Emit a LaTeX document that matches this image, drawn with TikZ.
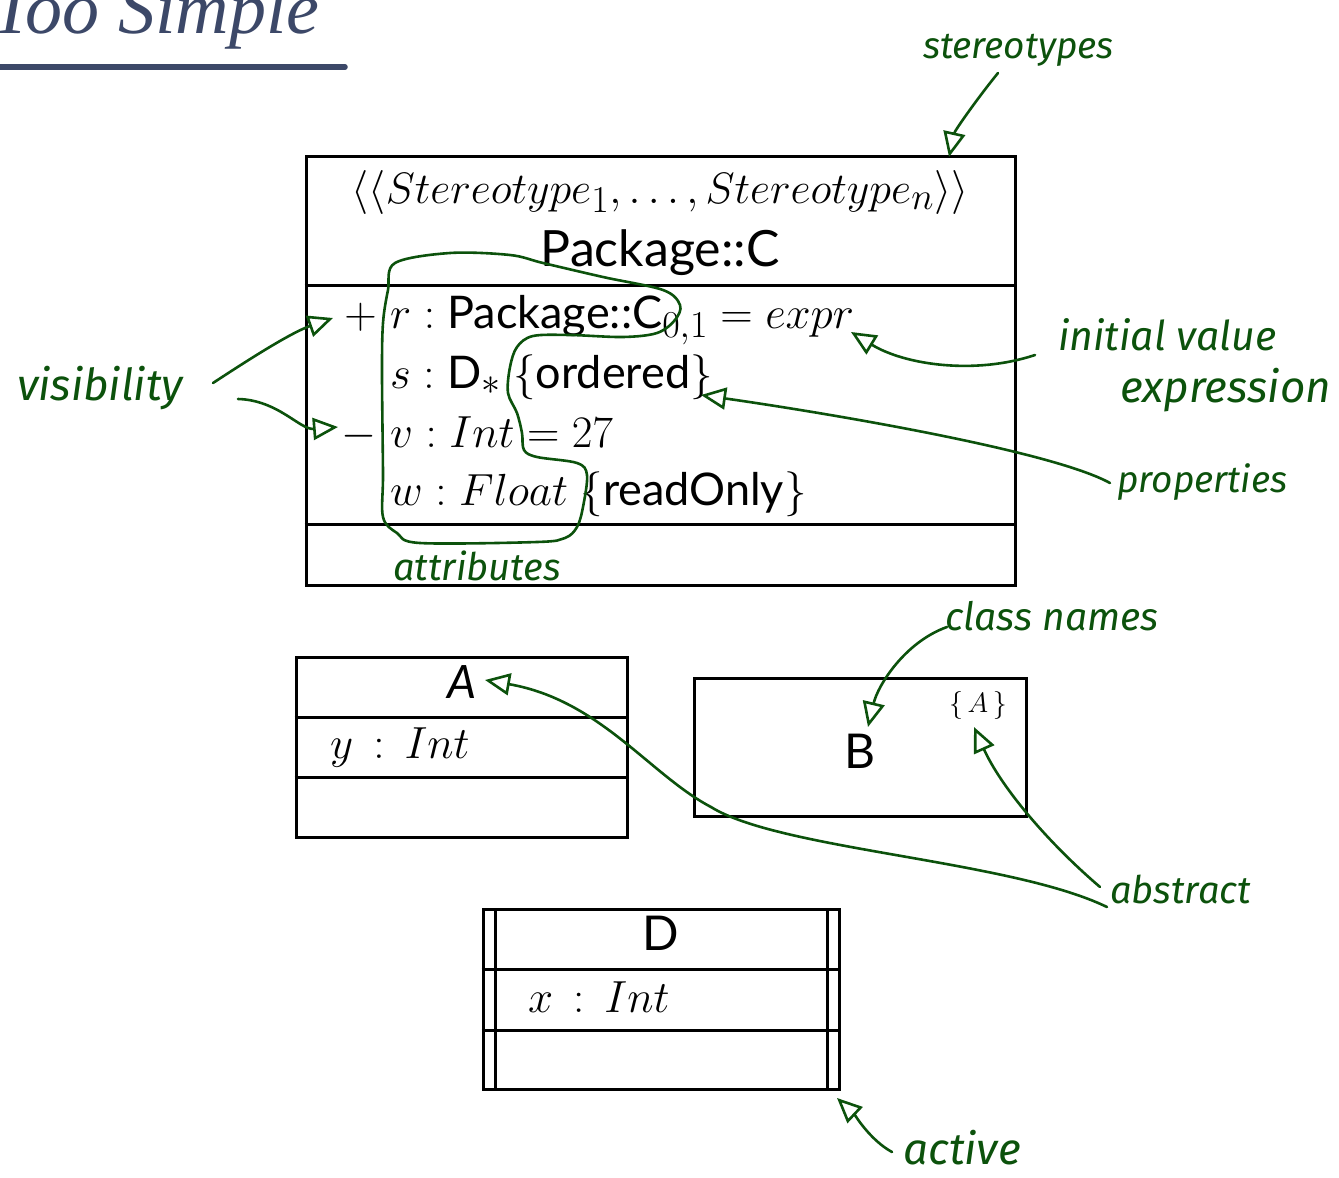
\RequirePackage{fix-cm}
\documentclass[tikz,border=0pt]{standalone}
\usepackage{fontspec}
\setsansfont{Lato}
\newfontfamily\titlefont{Liberation Serif}
\newfontfamily\handfont{Fira Sans}
\usetikzlibrary{arrows.meta}

% subscripts set at a fixed size
\newcommand\subsz[1]{\mbox{\fontsize{38}{38}\selectfont$#1$}}

\definecolor{slidetitle}{RGB}{60,72,104}
\definecolor{pen}{RGB}{12,82,12}

\tikzset{
  classbox/.style={draw, line width=3pt, inner sep=0pt, minimum width=#1},
  divider/.style={line width=3pt},
  fs/.style={font=\fontsize{#1}{#1}\selectfont},
  txt/.style={inner sep=0pt, fs=45},
  hand/.style={inner sep=0pt, text=pen, font=\fontsize{#1}{#1}\selectfont\handfont\itshape},
  note/.style={draw=pen, line width=2.6pt, line cap=round, line join=round,
    -{Triangle[open, length=25pt, width=22pt, line width=2.6pt]}},
  blob/.style={draw=pen, line width=2.6pt, line join=round}
}

\begin{document}
\begin{tikzpicture}[x=1pt, y=-1pt]
\useasboundingbox (0,0) rectangle (1339,1178);

% heading of the slide
\node[anchor=base east, inner sep=0pt, text=slidetitle,
      font=\fontsize{74}{74}\selectfont\titlefont\itshape] (title) at (320,33) {Too Simple};
\coordinate (ulstart) at (-5,67);
\coordinate (ulend) at (345,67);
\draw[slidetitle, line width=5.5pt, line cap=round] (ulstart) -- (ulend);

% ---- class C with stereotypes, attributes and an empty operation part
\node[classbox=709pt, minimum height=429pt] (C) at (660.5,370.5) {};
\draw[divider] (C.west |- 0,285) coordinate (c1l) -- (C.east |- 0,285) coordinate (c1r);
\draw[divider] (C.west |- 0,524) coordinate (c2l) -- (C.east |- 0,524) coordinate (c2r);

\node[txt, anchor=base, fs=44] (stereo) at (660,203)
  {$\langle\langle Stereotype_{\subsz{1}},\ldots,Stereotype_{\subsz{n}}\rangle\rangle$};
\node[txt, anchor=base, fs=50] (cname) at (660,266) {\sffamily Package::C};

\node[txt, anchor=base east] (plus) at (377,328) {$+$};
\node[txt, anchor=base east] (minus) at (377,447) {$-$};
\node[txt, anchor=base west] (attr1) at (390,328) {$r : \textsf{Package::C}_{\subsz{0{,}1}} = expr$};
\node[txt, anchor=base west] (attr2) at (390,388) {$s : \textsf{D}_{\subsz{*}}\;\{\textsf{ordered}\}$};
\node[txt, anchor=base west] (attr3) at (390,447) {$v : Int = 27$};
\node[txt, anchor=base west] (attr4) at (390,505) {$w : Float\;\{\textsf{readOnly}\}$};

% ---- abstract class A
\node[classbox=331pt, minimum height=180pt] (A) at (461.5,747) {};
\draw[divider] (A.west |- 0,717) -- (A.east |- 0,717);
\draw[divider] (A.west |- 0,777) -- (A.east |- 0,777);
\node[txt, anchor=base, fs=46] (aname) at (462,698) {\sffamily\itshape A};
\node[txt, anchor=base west] (aattr) at (330,758) {$y\, :\, Int$};

% ---- class B with property {A}
\node[classbox=332pt, minimum height=138pt] (B) at (860,747) {};
\node[txt, anchor=base, fs=48] (bname) at (860,768) {\sffamily B};
\node[txt, fs=28] (bprop) at (978,705) {$\{\,A\,\}$};

% ---- active class D
\node[classbox=356pt, minimum height=180pt] (D) at (661,999) {};
\draw[divider] (495,909) -- (495,1089);
\draw[divider] (827,909) -- (827,1089);
\draw[divider] (D.west |- 0,969) -- (D.east |- 0,969);
\draw[divider] (D.west |- 0,1030) -- (D.east |- 0,1030);
\node[txt, anchor=base, fs=48] (dname) at (661,950) {\sffamily D};
\node[txt, anchor=base west] (dattr) at (528,1012) {$x\, :\, Int$};

% ---- pen annotations
\node[hand=37, anchor=base west] (nstereo) at (923,58) {stereotypes};
\node[hand=44, anchor=base west] (nvis) at (17,400) {visibility};
\node[hand=41, anchor=base west] (ninit) at (1058,350) {initial value};
\node[hand=44, anchor=base west] (nexpr) at (1120,402) {expression};
\node[hand=37, anchor=base west] (nprop) at (1117,492) {properties};
\node[hand=38, anchor=base west] (nattr) at (393,580) {attributes};
\node[hand=39, anchor=base west] (nclass) at (945,630) {class names};
\node[hand=38, anchor=base west] (nabs) at (1110,903) {abstract};
\node[hand=44, anchor=base west] (nact) at (903,1164) {active};

% start points of the pen strokes and their targets
\coordinate (s1) at (998,73);    \coordinate (t1) at (949,157);
\coordinate (s2) at (213,383);   \coordinate (t2) at (333,318);
\coordinate (s3) at (238,399);   \coordinate (t3) at (338,427);
\coordinate (s4) at (1035,355);  \coordinate (t4) at (851,332);
\coordinate (s5) at (1110,483);  \coordinate (t5) at (701,395);
\coordinate (s6) at (947,627);   \coordinate (t6) at (868,727);
\coordinate (s7) at (1107,907);  \coordinate (m7) at (711,807);  \coordinate (t7) at (485,680);
\coordinate (s8) at (1100,887);  \coordinate (t8) at (974,727);
\coordinate (s9) at (892,1152);  \coordinate (t9) at (837,1098);

\draw[note] (s1) .. controls (980,95) and (955,130) .. (t1);
\draw[note] (s2) .. controls (245,362) and (290,333) .. (t2);
\draw[note] (s3) .. controls (278,400) and (300,430) .. (t3);
\draw[note] (s4) .. controls (975,375) and (905,365) .. (t4);
\draw[note] (s5) .. controls (1050,450) and (820,412) .. (t5);
\draw[note] (s6) .. controls (905,642) and (878,685) .. (t6);
\draw[draw=pen, line width=2.6pt, line cap=round] (s7) .. controls (1010,860) and (780,850) .. (m7);
\draw[note] (m7) .. controls (650,775) and (600,700) .. (t7);
\draw[note] (s8) .. controls (1045,840) and (1000,785) .. (t8);
\draw[note] (s9) .. controls (870,1140) and (855,1115) .. (t9);

% outline round the attribute names
\draw[blob] plot[smooth cycle, tension=0.55] coordinates {
  (395,263) (450,253) (510,255) (543,263) (603,277) (663,290) (680,305)
  (675,320) (657,333) (623,337) (570,335) (533,336) (517,347) (510,367)
  (508,393) (517,413) (522,433) (524,450) (537,457) (577,463) (587,475)
  (583,507) (577,527) (565,538) (537,542) (420,543) (397,533) (383,517)
  (383,473) (382,373) (383,323) (388,290)};
\end{tikzpicture}
\end{document}
